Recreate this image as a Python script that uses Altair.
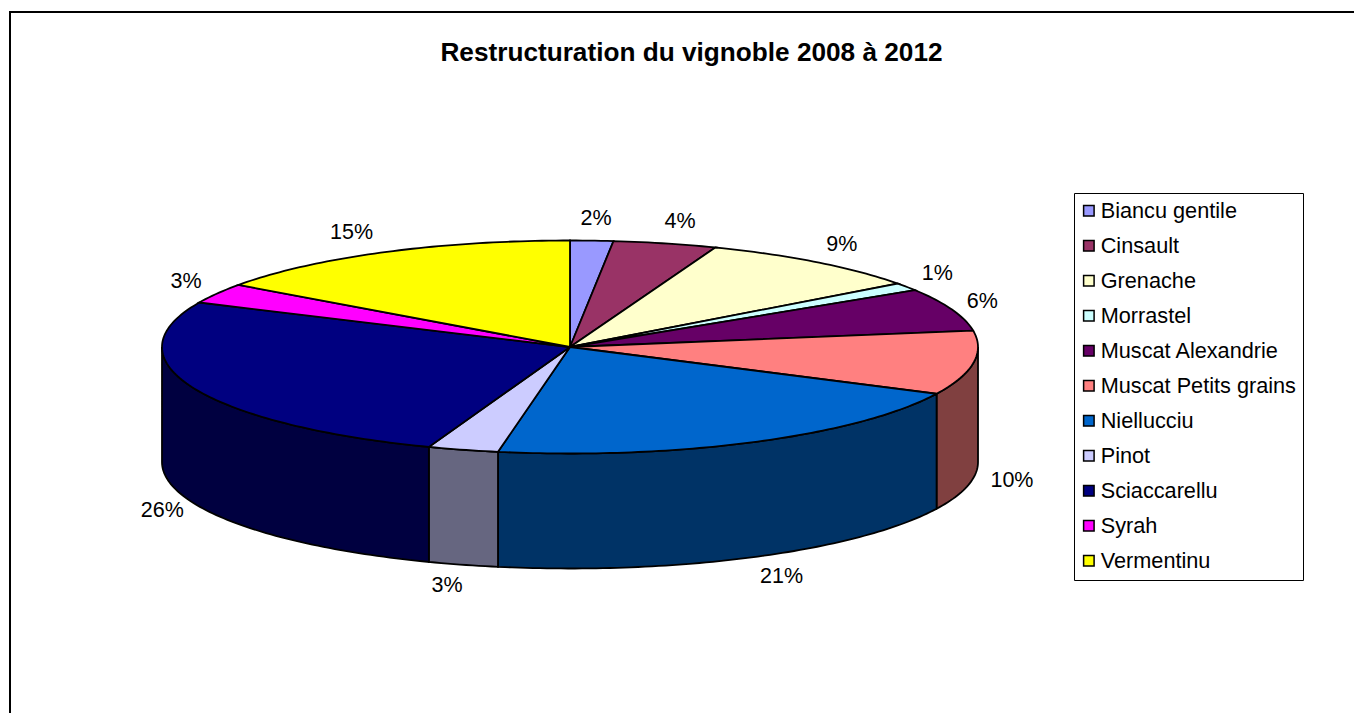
import math
import altair as alt

categories = ["Biancu gentile", "Cinsault", "Grenache", "Morrastel", "Muscat Alexandrie",
              "Muscat Petits grains", "Niellucciu", "Pinot", "Sciaccarellu", "Syrah", "Vermentinu"]
values = [1.7, 4.1, 9.05, 1.2, 6.5, 9.7, 20.6, 2.8, 26.25, 3.05, 15.1]
labels = ["2%", "4%", "9%", "1%", "6%", "10%", "21%", "3%", "26%", "3%", "15%"]
top_colors = ["#9999FF", "#993366", "#FFFFCC", "#CCFFFF", "#660066", "#FF8080",
              "#0066CC", "#CCCCFF", "#000080", "#FF00FF", "#FFFF00"]
side_colors = ["#4C4C80", "#4C1933", "#808066", "#668080", "#330033", "#804040",
               "#003366", "#666680", "#000040", "#800080", "#808000"]

W, H = 1346, 705
CX, CY, RX, RY, DEPTH = 562, 339, 408, 106.5, 115
LABEL_NUDGE = [2, 5, 0, -4, -9, -3, 8, -5, 8, 5, -13]


def pt(t, dy=0):
    r = math.radians(t)
    return [CX + RX * math.sin(r), CY - RY * math.cos(r) + dy]


def arc(t0, t1, dy=0):
    n = max(2, int(abs(t1 - t0)) + 2)
    return [pt(t0 + (t1 - t0) * i / (n - 1), dy) for i in range(n)]


def feature(name, ring, side=None):
    return {"type": "Feature",
            "geometry": {"type": "Polygon", "coordinates": [ring + [ring[0]]]},
            "properties": {"name": name, "side": side}}


tops, sides, texts = [], [], []
total = sum(values)
start = 0.0
for i, (name, v) in enumerate(zip(categories, values)):
    end = start + v / total * 360
    tops.append(feature(name, [[CX, CY]] + arc(start, end)))
    lo, hi = max(start, 90), min(end, 270)
    if lo < hi:
        sides.append(feature(name, arc(lo, hi) + arc(hi, lo, DEPTH), side_colors[i]))
    mid = (start + end) / 2
    r = math.radians(mid)
    front = 90 < mid < 270
    texts.append({"label": labels[i],
                  "x": CX + (RX + 42) * math.sin(r) + LABEL_NUDGE[i],
                  "y": CY - (RY + 22) * math.cos(r) + (DEPTH if front else 0)})
    start = end

proj = dict(type="identity", scale=1, translate=[0, 0])
FONT = "Liberation Sans"

frame = alt.Chart(alt.Data(values=[
    {"type": "Feature", "geometry": {"type": "LineString",
     "coordinates": [[2, H + 10], [2, 4], [W + 10, 4]]}, "properties": {}}
])).mark_geoshape(filled=False, stroke="#000000", strokeWidth=2).project(**proj)

side_layer = alt.Chart(alt.Data(values=sides)).mark_geoshape(
    stroke="#000000", strokeWidth=1.8
).encode(fill=alt.Fill("properties.side:N", scale=None)).project(**proj)

top_layer = alt.Chart(alt.Data(values=tops)).mark_geoshape(
    stroke="#000000", strokeWidth=1.8
).encode(
    fill=alt.Fill("properties.name:N",
                  scale=alt.Scale(domain=categories, range=top_colors),
                  sort=None,
                  legend=alt.Legend(title=None, orient="none", legendX=1066, legendY=185,
                                    symbolType="square", symbolSize=110, symbolOffset=-3,
                                    symbolStrokeColor="#000000", symbolStrokeWidth=1.5,
                                    labelFont=FONT, labelFontSize=21.7, labelColor="#000000",
                                    labelLimit=300, labelOffset=1, rowPadding=12,
                                    padding=7, strokeColor="#000000", fillColor="#FFFFFF",
                                    columns=1))
).project(**proj)

text_layer = alt.Chart(alt.Data(values=texts)).mark_text(
    font=FONT, fontSize=21.5, color="#000000", align="center", baseline="middle"
).encode(x=alt.X("x:Q", scale=None, axis=None),
         y=alt.Y("y:Q", scale=None, axis=None),
         text="label:N")

chart = alt.layer(frame, side_layer, top_layer, text_layer).resolve_scale(
    fill="independent"
).properties(
    width=W, height=H, padding=0, autosize=alt.AutoSizeParams(type="none"),
    title=alt.TitleParams("Restructuration du vignoble 2008 à 2012", font=FONT, fontSize=26.2,
                          fontWeight="bold", color="#000000", anchor="middle",
                          dx=10.5, dy=71, baseline="middle", orient="top", offset=0)
).configure_view(stroke=None)

chart.save("out.html", embed_options={"renderer": "svg", "actions": False})
